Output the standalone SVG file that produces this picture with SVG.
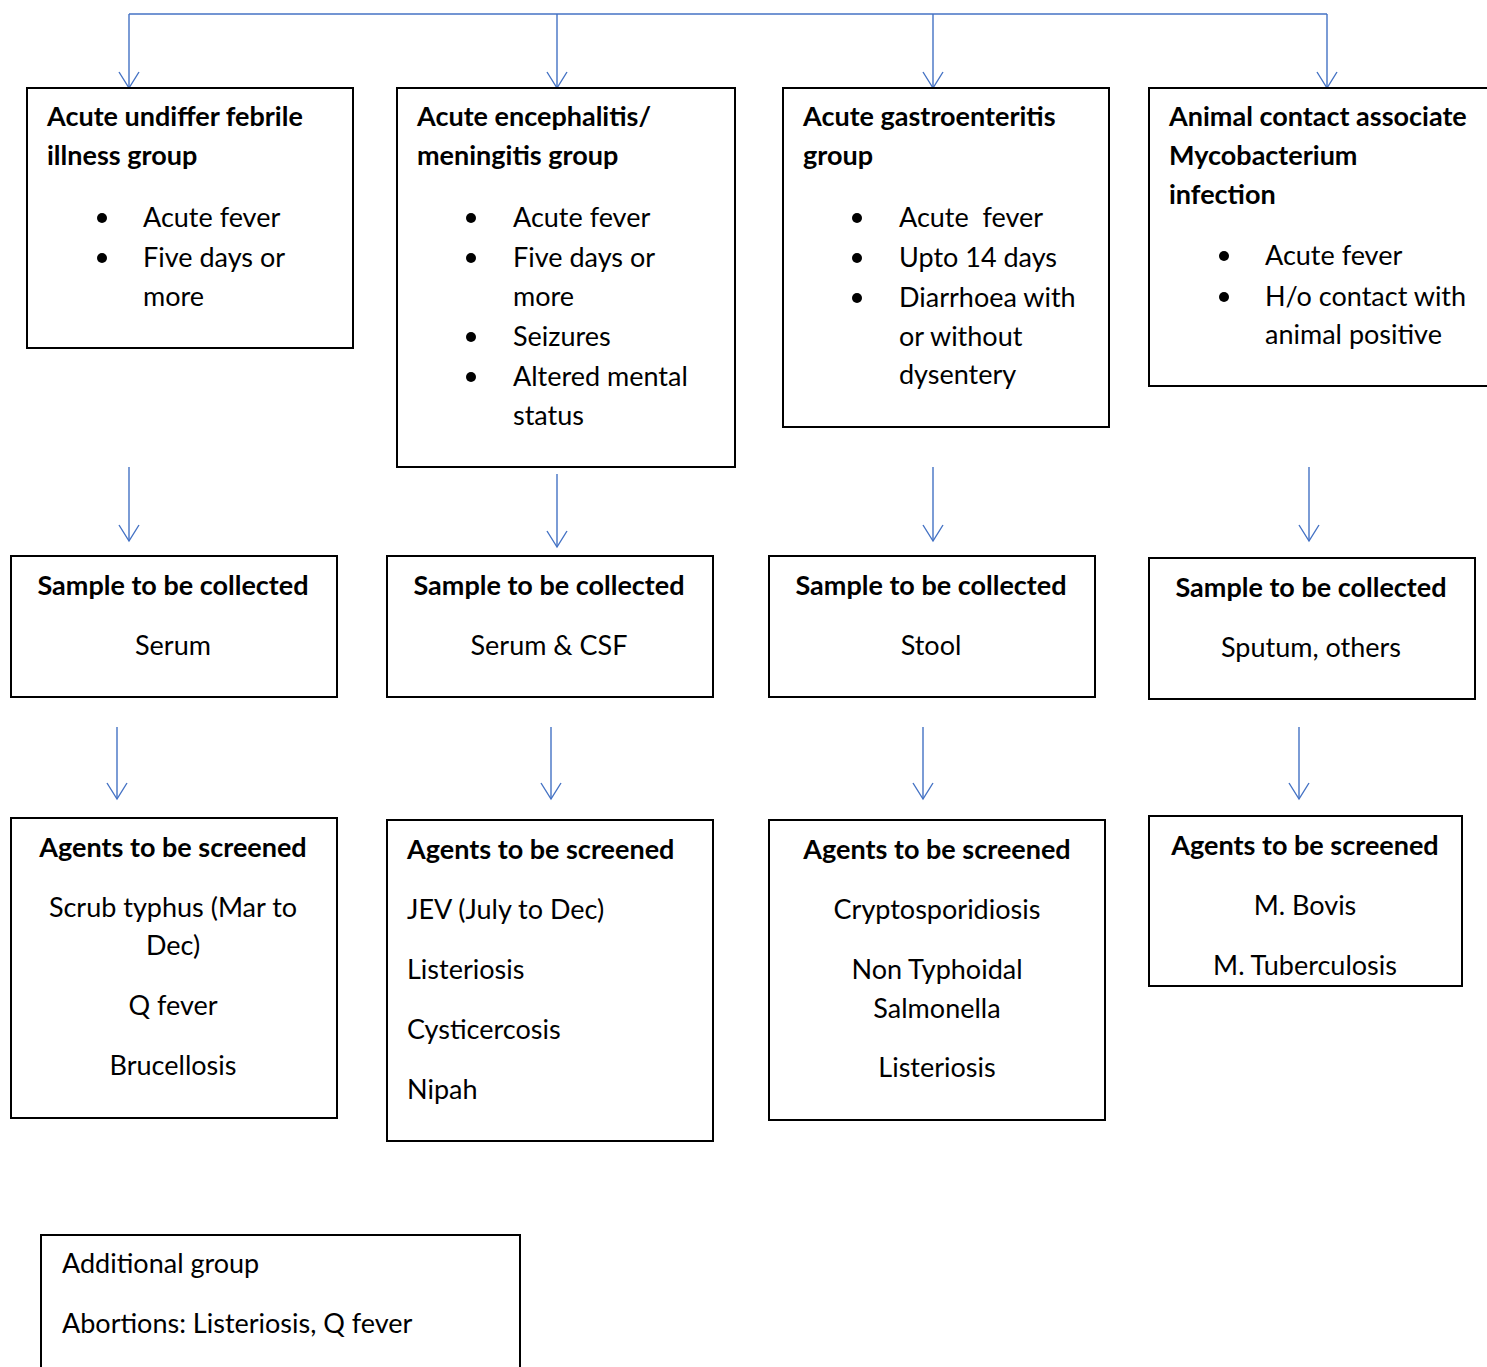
<svg xmlns="http://www.w3.org/2000/svg" width="1487" height="1367" viewBox="0 0 1487 1367">
<style>
.box{fill:#fff;stroke:#000;stroke-width:2}
.con{fill:none;stroke:#4472C4;stroke-width:1.4}
text{font-family:Lato,"Liberation Sans",sans-serif;font-size:27px;fill:#000}
.h{font-weight:bold}
.c{text-anchor:middle}
</style>
<defs>
<marker id="arr" viewBox="0 0 20 22" refX="18" refY="11" markerWidth="20" markerHeight="22" markerUnits="userSpaceOnUse" orient="auto">
<path d="M2 1 L18 11 L2 21" fill="none" stroke="#4472C4" stroke-width="1.4"/>
</marker>
</defs>
<rect width="1487" height="1367" fill="#fff"/>
<g id="connectors">
<path class="con" d="M129 14 H1327"/>
<path class="con" d="M129 14 V88" marker-end="url(#arr)"/>
<path class="con" d="M557 14 V88" marker-end="url(#arr)"/>
<path class="con" d="M933 14 V88" marker-end="url(#arr)"/>
<path class="con" d="M1327 14 V88" marker-end="url(#arr)"/>
<path class="con" d="M129 467 V541" marker-end="url(#arr)"/>
<path class="con" d="M557 474 V547" marker-end="url(#arr)"/>
<path class="con" d="M933 467 V541" marker-end="url(#arr)"/>
<path class="con" d="M1309 467 V541" marker-end="url(#arr)"/>
<path class="con" d="M117 727 V799" marker-end="url(#arr)"/>
<path class="con" d="M551 727 V799" marker-end="url(#arr)"/>
<path class="con" d="M923 727 V799" marker-end="url(#arr)"/>
<path class="con" d="M1299 727 V799" marker-end="url(#arr)"/>
</g>
<g id="group1">
<rect class="box" x="27" y="88" width="326" height="260"/>
<text class="h" x="47" y="126">Acute undiffer febrile</text>
<text class="h" x="47" y="165">illness group</text>
<circle cx="102" cy="218" r="5"/><text x="143" y="227">Acute fever</text>
<circle cx="102" cy="258" r="5"/><text x="143" y="267">Five days or</text>
<text x="143" y="306">more</text>
</g>
<g id="group2">
<rect class="box" x="397" y="88" width="338" height="379"/>
<text class="h" x="417" y="126">Acute encephalitis/</text>
<text class="h" x="417" y="165">meningitis group</text>
<circle cx="471" cy="218" r="5"/><text x="513" y="227">Acute fever</text>
<circle cx="471" cy="258" r="5"/><text x="513" y="267">Five days or</text>
<text x="513" y="306">more</text>
<circle cx="471" cy="337" r="5"/><text x="513" y="346">Seizures</text>
<circle cx="471" cy="377" r="5"/><text x="513" y="386">Altered mental</text>
<text x="513" y="425">status</text>
</g>
<g id="group3">
<rect class="box" x="783" y="88" width="326" height="339"/>
<text class="h" x="803" y="126">Acute gastroenteritis</text>
<text class="h" x="803" y="165">group</text>
<circle cx="857" cy="218" r="5"/><text x="899" y="227" xml:space="preserve">Acute  fever</text>
<circle cx="857" cy="258" r="5"/><text x="899" y="267">Upto 14 days</text>
<circle cx="857" cy="298" r="5"/><text x="899" y="307">Diarrhoea with</text>
<text x="899" y="346">or without</text>
<text x="899" y="384">dysentery</text>
</g>
<g id="group4">
<rect class="box" x="1149" y="88" width="350" height="298"/>
<text class="h" x="1169" y="126">Animal contact associate</text>
<text class="h" x="1169" y="165">Mycobacterium</text>
<text class="h" x="1169" y="204">infection</text>
<circle cx="1224" cy="256" r="5"/><text x="1265" y="265">Acute fever</text>
<circle cx="1224" cy="297" r="5"/><text x="1265" y="306">H/o contact with</text>
<text x="1265" y="344">animal positive</text>
</g>
<g id="sample1">
<rect class="box" x="11" y="556" width="326" height="141"/>
<text class="h c" x="173" y="595">Sample to be collected</text>
<text class="c" x="173" y="655">Serum</text>
</g>
<g id="sample2">
<rect class="box" x="387" y="556" width="326" height="141"/>
<text class="h c" x="549" y="595">Sample to be collected</text>
<text class="c" x="549" y="655">Serum &amp; CSF</text>
</g>
<g id="sample3">
<rect class="box" x="769" y="556" width="326" height="141"/>
<text class="h c" x="931" y="595">Sample to be collected</text>
<text class="c" x="931" y="655">Stool</text>
</g>
<g id="sample4">
<rect class="box" x="1149" y="558" width="326" height="141"/>
<text class="h c" x="1311" y="597">Sample to be collected</text>
<text class="c" x="1311" y="657">Sputum, others</text>
</g>
<g id="agents1">
<rect class="box" x="11" y="818" width="326" height="300"/>
<text class="h c" x="173" y="857">Agents to be screened</text>
<text class="c" x="173" y="917">Scrub typhus (Mar to</text>
<text class="c" x="173" y="955">Dec)</text>
<text class="c" x="173" y="1015">Q fever</text>
<text class="c" x="173" y="1075">Brucellosis</text>
</g>
<g id="agents2">
<rect class="box" x="387" y="820" width="326" height="321"/>
<text class="h" x="407" y="859">Agents to be screened</text>
<text x="407" y="919">JEV (July to Dec)</text>
<text x="407" y="979">Listeriosis</text>
<text x="407" y="1039">Cysticercosis</text>
<text x="407" y="1099">Nipah</text>
</g>
<g id="agents3">
<rect class="box" x="769" y="820" width="336" height="300"/>
<text class="h c" x="937" y="859">Agents to be screened</text>
<text class="c" x="937" y="919">Cryptosporidiosis</text>
<text class="c" x="937" y="979">Non Typhoidal</text>
<text class="c" x="937" y="1018">Salmonella</text>
<text class="c" x="937" y="1077">Listeriosis</text>
</g>
<g id="agents4">
<rect class="box" x="1149" y="816" width="313" height="170"/>
<text class="h c" x="1305" y="855">Agents to be screened</text>
<text class="c" x="1305" y="915">M. Bovis</text>
<text class="c" x="1305" y="975">M. Tuberculosis</text>
</g>
<g id="additional">
<rect class="box" x="41" y="1235" width="479" height="145"/>
<text x="62" y="1273">Additional group</text>
<text x="62" y="1333">Abortions: Listeriosis, Q fever</text>
</g>
</svg>
